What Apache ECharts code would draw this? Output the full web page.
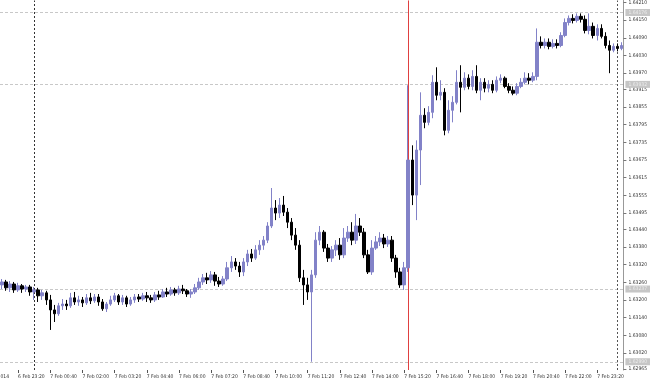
<!DOCTYPE html>
<html><head><meta charset="utf-8">
<script src="https://cdn.jsdelivr.net/npm/echarts@6/dist/echarts.min.js"></script>
<style>html,body{margin:0;padding:0;background:#fff}#c{width:650px;height:381px}</style>
</head><body><div id="c"></div>
<script>
// ---- data (10-minute bars, first bar 6 Feb 22:40) ----
const firstBarDay = 6, firstBarMinute = 22 * 60 + 40, barMinutes = 10;

const openP = [
1.63251,1.63261,1.63241,1.63254,1.63234,1.63248,1.63237,1.63244,1.63227,1.63234,
1.63214,1.63224,1.63200,1.63166,1.63153,1.63180,1.63186,1.63180,1.63207,1.63193,
1.63200,1.63190,1.63207,1.63197,1.63210,1.63193,1.63170,1.63186,1.63200,1.63214,
1.63193,1.63207,1.63186,1.63200,1.63210,1.63203,1.63214,1.63207,1.63200,1.63217,
1.63210,1.63227,1.63220,1.63234,1.63224,1.63237,1.63231,1.63220,1.63227,1.63241,
1.63261,1.63275,1.63268,1.63285,1.63264,1.63254,1.63271,1.63309,1.63329,1.63315,
1.63295,1.63329,1.63356,1.63342,1.63370,1.63386,1.63403,1.63451,1.63512,1.63495,
1.63522,1.63498,1.63464,1.63420,1.63386,1.63275,1.63251,1.63227,1.63285,1.63403,
1.63430,1.63376,1.63342,1.63370,1.63386,1.63353,1.63410,1.63430,1.63403,1.63451,
1.63430,1.63353,1.63295,1.63376,1.63397,1.63410,1.63390,1.63403,1.63342,1.63295,
1.63251,1.63309,1.63675,1.63556,1.63709,1.63827,1.63803,1.63837,1.63939,1.63895,
1.63905,1.63776,1.63844,1.63871,1.63939,1.63922,1.63953,1.63925,1.63959,1.63912,
1.63939,1.63919,1.63932,1.63912,1.63946,1.63953,1.63925,1.63912,1.63902,1.63925,
1.63939,1.63953,1.63946,1.63959,1.64075,1.64064,1.64075,1.64061,1.64071,1.64064,
1.64098,1.64142,1.64156,1.64149,1.64163,1.64153,1.64115,1.64129,1.64098,1.64122,
1.64095,1.64064,1.64048,1.64061,1.64054];

const closeP = [
1.63261,1.63241,1.63254,1.63234,1.63248,1.63237,1.63244,1.63227,1.63234,1.63214,
1.63224,1.63200,1.63166,1.63153,1.63180,1.63186,1.63180,1.63207,1.63193,1.63200,
1.63190,1.63207,1.63197,1.63210,1.63193,1.63170,1.63186,1.63200,1.63214,1.63193,
1.63207,1.63186,1.63200,1.63210,1.63203,1.63214,1.63207,1.63200,1.63217,1.63210,
1.63227,1.63220,1.63234,1.63224,1.63237,1.63231,1.63220,1.63227,1.63241,1.63261,
1.63275,1.63268,1.63285,1.63264,1.63254,1.63271,1.63309,1.63329,1.63315,1.63295,
1.63329,1.63356,1.63342,1.63370,1.63386,1.63403,1.63451,1.63512,1.63495,1.63522,
1.63498,1.63464,1.63420,1.63386,1.63275,1.63251,1.63227,1.63285,1.63403,1.63430,
1.63376,1.63342,1.63370,1.63386,1.63353,1.63410,1.63430,1.63403,1.63451,1.63430,
1.63353,1.63295,1.63376,1.63397,1.63410,1.63390,1.63403,1.63342,1.63295,1.63251,
1.63309,1.63675,1.63556,1.63709,1.63827,1.63803,1.63837,1.63939,1.63895,1.63905,
1.63776,1.63844,1.63871,1.63939,1.63922,1.63953,1.63925,1.63959,1.63912,1.63939,
1.63919,1.63932,1.63912,1.63946,1.63953,1.63925,1.63912,1.63902,1.63925,1.63939,
1.63953,1.63946,1.63959,1.64075,1.64064,1.64075,1.64061,1.64071,1.64064,1.64098,
1.64142,1.64156,1.64149,1.64163,1.64153,1.64115,1.64129,1.64098,1.64122,1.64095,
1.64064,1.64048,1.64061,1.64054,1.64064];

const highP = [
1.63271,1.63268,1.63264,1.63261,1.63258,1.63254,1.63251,1.63251,1.63244,1.63241,
1.63234,1.63231,1.63217,1.63183,1.63190,1.63203,1.63200,1.63224,1.63227,1.63214,
1.63210,1.63220,1.63224,1.63220,1.63220,1.63203,1.63193,1.63214,1.63224,1.63220,
1.63217,1.63214,1.63210,1.63220,1.63220,1.63224,1.63227,1.63217,1.63227,1.63231,
1.63237,1.63241,1.63244,1.63241,1.63248,1.63251,1.63237,1.63237,1.63254,1.63275,
1.63288,1.63292,1.63298,1.63295,1.63278,1.63281,1.63329,1.63349,1.63342,1.63329,
1.63342,1.63370,1.63373,1.63386,1.63403,1.63417,1.63464,1.63580,1.63539,1.63546,
1.63553,1.63512,1.63478,1.63444,1.63403,1.63302,1.63275,1.63302,1.63430,1.63451,
1.63437,1.63390,1.63383,1.63403,1.63410,1.63444,1.63451,1.63464,1.63492,1.63478,
1.63444,1.63370,1.63403,1.63417,1.63430,1.63424,1.63417,1.63417,1.63353,1.63309,
1.63329,1.63929,1.63725,1.63742,1.63905,1.63851,1.63858,1.63963,1.63990,1.63946,
1.63919,1.63878,1.63892,1.63980,1.63997,1.63973,1.63966,1.63980,1.63997,1.63953,
1.63953,1.63946,1.63946,1.63959,1.63966,1.63959,1.63936,1.63925,1.63936,1.63953,
1.63973,1.63970,1.63973,1.64122,1.64095,1.64088,1.64088,1.64085,1.64085,1.64109,
1.64156,1.64166,1.64170,1.64173,1.64173,1.64166,1.64173,1.64142,1.64136,1.64136,
1.64109,1.64081,1.64071,1.64071,1.64075];

const lowP = [
1.63237,1.63231,1.63227,1.63224,1.63227,1.63224,1.63227,1.63214,1.63200,1.63193,
1.63200,1.63183,1.63098,1.63125,1.63146,1.63166,1.63166,1.63173,1.63183,1.63180,
1.63176,1.63183,1.63186,1.63190,1.63180,1.63163,1.63159,1.63180,1.63193,1.63183,
1.63183,1.63176,1.63180,1.63190,1.63193,1.63197,1.63193,1.63190,1.63193,1.63200,
1.63207,1.63210,1.63214,1.63214,1.63217,1.63220,1.63210,1.63207,1.63220,1.63234,
1.63251,1.63254,1.63258,1.63248,1.63244,1.63248,1.63264,1.63295,1.63302,1.63278,
1.63281,1.63315,1.63329,1.63336,1.63353,1.63370,1.63393,1.63444,1.63471,1.63478,
1.63485,1.63444,1.63403,1.63370,1.63261,1.63183,1.63200,1.62990,1.63275,1.63386,
1.63363,1.63329,1.63329,1.63349,1.63336,1.63342,1.63397,1.63386,1.63390,1.63417,
1.63342,1.63288,1.63285,1.63370,1.63383,1.63376,1.63380,1.63329,1.63275,1.63241,
1.63234,1.63295,1.63522,1.63471,1.63590,1.63783,1.63793,1.63817,1.63878,1.63878,
1.63759,1.63766,1.63803,1.63864,1.63837,1.63912,1.63915,1.63912,1.63902,1.63878,
1.63905,1.63905,1.63902,1.63905,1.63936,1.63919,1.63902,1.63895,1.63895,1.63919,
1.63932,1.63932,1.63939,1.63946,1.64054,1.64054,1.64051,1.64054,1.64054,1.64058,
1.64092,1.64132,1.64139,1.64142,1.64142,1.64105,1.64102,1.64088,1.64081,1.64088,
1.64054,1.63970,1.64041,1.64044,1.64048];

const xTickLabels = ['6 Feb 23:20','7 Feb 00:40','7 Feb 02:00','7 Feb 03:20','7 Feb 04:40',
  '7 Feb 06:00','7 Feb 07:20','7 Feb 08:40','7 Feb 10:00','7 Feb 11:20','7 Feb 12:40',
  '7 Feb 14:00','7 Feb 15:20','7 Feb 16:40','7 Feb 18:00','7 Feb 19:20','7 Feb 20:40',
  '7 Feb 22:00','7 Feb 23:20'];
const yTickLabels = ['1.62965','1.63020','1.63080','1.63140','1.63200','1.63260','1.63320',
  '1.63380','1.63440','1.63495','1.63555','1.63615','1.63675','1.63735','1.63795','1.63855',
  '1.63915','1.63970','1.64030','1.64090','1.64150','1.64210'];
const priceLevels = [1.64176, 1.63932, 1.63237, 1.62990];
const daySeparator = '7 Feb 00:00';
const newsTime = '7 Feb 15:30';
const rightMarker = '8 Feb 00:10';
const cutLabel = '6 Feb 2014';

// ---- build ----
const pad = n => (n < 10 ? '0' : '') + n;
const categories = openP.map((_, i) => {
  const t = firstBarMinute + i * barMinutes;
  const d = firstBarDay + Math.floor(t / 1440), m = t % 1440;
  return d + ' Feb ' + pad(Math.floor(m / 60)) + ':' + pad(m % 60);
});
const ohlc = openP.map((o, i) => [o, closeP[i], lowP[i], highP[i]]);
const xSet = new Set(xTickLabels);
const yVals = yTickLabels.map(Number);
const FONT = "'Liberation Sans Narrow','DejaVu Sans Condensed','Liberation Sans',sans-serif";
const FS = 5;
const BULL = '#8282c8';

const chart = echarts.init(document.getElementById('c'), null, {renderer: 'canvas'});
chart.setOption({
  animation: false,
  backgroundColor: '#ffffff',
  grid: {left: -2, right: 22, top: 0, bottom: 11, containLabel: false},
  xAxis: {
    type: 'category', data: categories, boundaryGap: true,
    axisLine: {show: false},
    axisTick: {show: true, alignWithLabel: true, length: 3, interval: (i, v) => xSet.has(v),
      lineStyle: {color: '#555'}},
    axisLabel: {interval: (i, v) => xSet.has(v), align: 'left', margin: 4,
      fontSize: FS, fontFamily: FONT, color: '#333', hideOverlap: false},
    splitLine: {show: false}
  },
  yAxis: {
    type: 'value', position: 'right', scale: true, min: 1.62962, max: 1.64217,
    axisLine: {show: true, lineStyle: {color: '#999', width: 1}},
    axisTick: {show: true, length: 3, customValues: yVals, lineStyle: {color: '#777'}},
    axisLabel: {customValues: yVals, margin: 5, fontSize: FS, fontFamily: FONT, color: '#333',
      showMinLabel: true, showMaxLabel: true, hideOverlap: false,
      formatter: v => yTickLabels.find(t => Math.abs(+t - v) < 1e-7) || v.toFixed(5)
    },
    splitLine: {show: false}
  },
  series: [{
    type: 'candlestick', data: ohlc, barWidth: 3, z: 3,
    itemStyle: {color: BULL, color0: '#000000', borderColor: BULL, borderColor0: '#000000', borderWidth: 1},
    markLine: {
      z: 1, silent: true, symbol: ['none', 'none'], animation: false, precision: 5,
      data: [
        ...priceLevels.map(v => ({yAxis: v,
          lineStyle: {color: '#c8c8c8', type: [3, 2], width: 1},
          label: {show: true, position: 'end', distance: 2, formatter: v.toFixed(5),
            backgroundColor: '#c6c6c6', color: '#ececec', fontSize: FS, fontFamily: FONT,
            padding: [1, 3]}})),
        {xAxis: daySeparator, lineStyle: {color: '#333', type: [2, 2], width: 1}, label: {show: false}},
        {xAxis: rightMarker, lineStyle: {color: '#555', type: [2, 2], width: 1}, label: {show: false}},
        {xAxis: newsTime, lineStyle: {color: '#e04040', type: 'solid', width: 1}, label: {show: false}}
      ]
    }
  }],
  graphic: [{type: 'text', x: 9, y: 377, silent: true,
    style: {text: cutLabel, align: 'right', verticalAlign: 'middle', fontSize: FS,
      fontFamily: FONT, fill: '#333'}}]
});
</script></body></html>
